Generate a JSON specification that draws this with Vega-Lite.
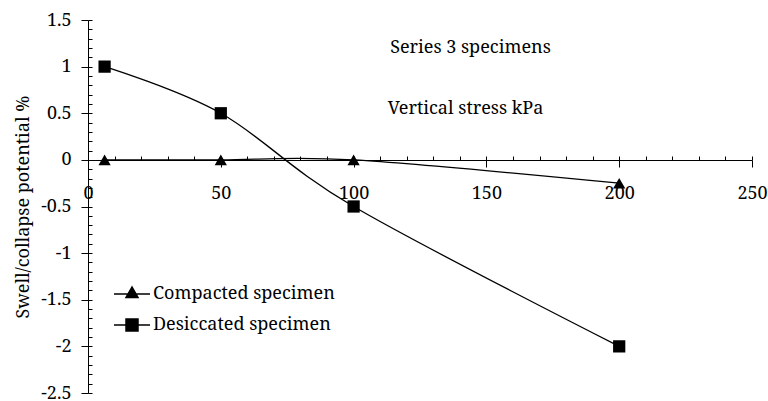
{
  "$schema": "https://vega.github.io/schema/vega-lite/v6.json",
  "width": 664,
  "height": 373,
  "autosize": {"type": "none"},
  "padding": {"left": 88, "top": 20, "right": 16, "bottom": 8},
  "background": "white",
  "config": {
    "font": "Noto Serif, DejaVu Serif",
    "view": {"stroke": null},
    "axis": {
      "labelFont": "Noto Serif, DejaVu Serif",
      "titleFont": "Noto Serif, DejaVu Serif",
      "labelFontSize": 18,
      "titleFontSize": 18,
      "titleFontWeight": "normal",
      "labelColor": "black",
      "titleColor": "black",
      "domainColor": "black",
      "tickColor": "black",
      "domainWidth": 1,
      "tickWidth": 1,
      "grid": false,
      "labelFlush": false,
      "labelOverlap": false
    },
    "legend": {
      "labelFont": "Noto Serif, DejaVu Serif"
    }
  },
  "data": {
    "values": [
      {"series": "Compacted specimen", "stress": 6.25, "potential": 0},
      {"series": "Compacted specimen", "stress": 50, "potential": 0},
      {"series": "Compacted specimen", "stress": 100, "potential": 0},
      {"series": "Compacted specimen", "stress": 200, "potential": -0.25},
      {"series": "Desiccated specimen", "stress": 6.25, "potential": 1},
      {"series": "Desiccated specimen", "stress": 50, "potential": 0.5},
      {"series": "Desiccated specimen", "stress": 100, "potential": -0.5},
      {"series": "Desiccated specimen", "stress": 200, "potential": -2}
    ]
  },
  "layer": [
    {
      "mark": {"type": "line", "interpolate": "cardinal", "color": "black", "strokeWidth": 1.3},
      "encoding": {
        "x": {
          "field": "stress", "type": "quantitative",
          "scale": {"domain": [0, 250], "nice": false, "zero": false},
          "axis": {
            "orient": "bottom", "offset": -233,
            "values": [0, 50, 100, 150, 200, 250],
            "tickSize": 7, "labelPadding": 31, "labelBaseline": "alphabetic",
            "labelExpr": "'' + datum.value",
            "title": "Vertical stress kPa",
            "titleX": 377, "titleY": -47, "titleBaseline": "alphabetic", "titleAlign": "center"
          }
        },
        "y": {
          "field": "potential", "type": "quantitative",
          "scale": {"domain": [-2.5, 1.5], "nice": false, "zero": false},
          "axis": {
            "values": [-2.5, -2, -1.5, -1, -0.5, 0, 0.5, 1, 1.5],
            "tickSize": 7, "labelPadding": 10,
            "labelExpr": "'' + datum.value",
            "title": "Swell/collapse potential %",
            "titlePadding": 8
          }
        },
        "detail": {"field": "series", "type": "nominal"}
      }
    },
    {
      "mark": {"type": "point", "filled": true, "color": "black", "size": 150, "opacity": 1},
      "encoding": {
        "x": {
          "field": "stress", "type": "quantitative",
          "axis": {
            "orient": "bottom", "offset": -233,
            "values": [0, 10, 20, 30, 40, 50, 60, 70, 80, 90, 100, 110, 120, 130, 140, 150, 160, 170, 180, 190, 200, 210, 220, 230, 240, 250],
            "tickSize": -4, "labels": false, "domain": false, "title": null
          }
        },
        "y": {
          "field": "potential", "type": "quantitative",
          "axis": {
            "orient": "left",
            "values": [-2.5, -2.4, -2.3, -2.2, -2.1, -2, -1.9, -1.8, -1.7, -1.6, -1.5, -1.4, -1.3, -1.2, -1.1, -1, -0.9, -0.8, -0.7, -0.6, -0.5, -0.4, -0.3, -0.2, -0.1, 0, 0.1, 0.2, 0.3, 0.4, 0.5, 0.6, 0.7, 0.8, 0.9, 1, 1.1, 1.2, 1.3, 1.4, 1.5],
            "tickSize": -4, "labels": false, "domain": false, "title": null
          }
        },
        "shape": {
          "field": "series", "type": "nominal",
          "scale": {"range": ["triangle-up", "square"]},
          "legend": null
        }
      }
    },
    {
      "mark": {"type": "point", "filled": true, "color": "black", "fill": "black", "stroke": "black", "strokeWidth": 1.3, "opacity": 0},
      "encoding": {
        "x": {"field": "stress", "type": "quantitative", "axis": null},
        "y": {"field": "potential", "type": "quantitative", "axis": null},
        "shape": {
          "field": "series", "type": "nominal",
          "scale": {"range": ["M-3,0L3,0M0,-1.155L-1,0.577L1,0.577Z", "M-3,0L3,0M-1,-1L1,-1L1,1L-1,1Z"]},
          "legend": {
            "title": null,
            "orient": "none",
            "legendX": 35,
            "legendY": 265,
            "padding": 0,
            "symbolSize": 144,
            "symbolOpacity": 1,
            "labelFontSize": 18,
            "labelColor": "black",
            "labelLimit": 400,
            "labelOffset": 12,
            "rowPadding": 13
          }
        }
      }
    },
    {
      "data": {"values": [{"label": "Series 3 specimens"}]},
      "mark": {"type": "text", "font": "Noto Serif, DejaVu Serif", "fontSize": 18, "color": "black", "align": "center", "baseline": "alphabetic"},
      "encoding": {
        "x": {"datum": 144, "type": "quantitative", "axis": null},
        "y": {"datum": 1.147, "type": "quantitative", "axis": null},
        "text": {"field": "label"}
      }
    }
  ],
  "resolve": {"axis": {"x": "independent", "y": "independent"}, "scale": {"shape": "independent"}}
}
